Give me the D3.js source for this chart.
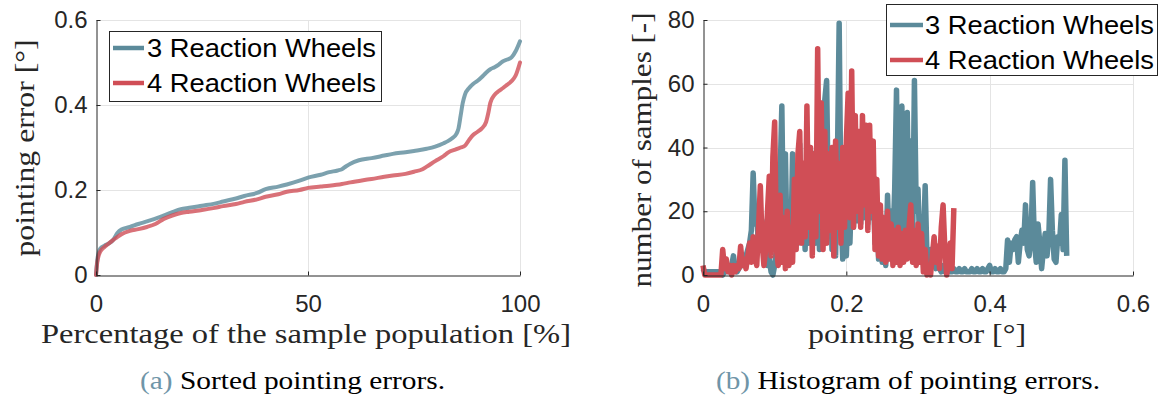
<!DOCTYPE html>
<html>
<head>
<meta charset="utf-8">
<script src="https://cdn.jsdelivr.net/npm/d3@7"></script>
<style>
  html, body { margin: 0; padding: 0; background: #fff; }
  svg { display: block; }
</style>
</head>
<body>
<svg id="fig" width="1163" height="403"></svg>
<script>
// ---- (a) sorted pointing errors: share of the sample population [%] -> error [deg]
const sortedPct3 = [0, 0.3, 0.7, 1, 2, 3, 4, 5, 6, 8, 10, 12, 15, 18, 20, 22, 25, 28, 30, 33, 35, 38, 40, 43, 45, 48, 50, 53, 55, 57, 58, 59, 60, 62, 65, 68, 70, 73, 75, 78, 80, 82, 83, 84, 85, 85.5, 86, 86.5, 87, 88, 89, 90, 91, 92, 93, 94, 95, 96, 97, 98, 99, 100];
const sortedErr3 = [0, 0.035, 0.055, 0.062, 0.069, 0.074, 0.082, 0.098, 0.107, 0.113, 0.12, 0.126, 0.136, 0.148, 0.155, 0.158, 0.163, 0.168, 0.173, 0.18, 0.186, 0.193, 0.202, 0.208, 0.213, 0.222, 0.229, 0.236, 0.242, 0.246, 0.249, 0.256, 0.262, 0.27, 0.275, 0.281, 0.285, 0.289, 0.292, 0.297, 0.302, 0.31, 0.315, 0.322, 0.332, 0.345, 0.375, 0.405, 0.424, 0.44, 0.45, 0.457, 0.466, 0.476, 0.484, 0.489, 0.495, 0.503, 0.507, 0.512, 0.527, 0.55];
const sortedPct4 = [0, 0.3, 0.7, 1, 2, 3, 4, 5, 6, 8, 10, 12, 14, 16, 18, 20, 22, 25, 28, 30, 33, 35, 38, 40, 43, 45, 48, 50, 53, 55, 58, 60, 63, 65, 68, 70, 73, 75, 77, 78, 80, 82, 83, 85, 86, 87, 88, 89, 90, 91, 92, 92.5, 93, 94, 95, 96, 97, 98, 99, 100];
const sortedErr4 = [0, 0.03, 0.048, 0.055, 0.066, 0.074, 0.082, 0.089, 0.096, 0.104, 0.108, 0.113, 0.12, 0.132, 0.14, 0.146, 0.149, 0.153, 0.158, 0.162, 0.167, 0.172, 0.178, 0.184, 0.19, 0.196, 0.2, 0.205, 0.208, 0.21, 0.214, 0.218, 0.223, 0.226, 0.231, 0.234, 0.238, 0.243, 0.249, 0.255, 0.268, 0.28, 0.288, 0.296, 0.3, 0.304, 0.318, 0.33, 0.337, 0.345, 0.36, 0.38, 0.405, 0.424, 0.433, 0.44, 0.448, 0.456, 0.47, 0.5];

// ---- (b) histogram of pointing errors: bin width [deg] and sample counts per bin
const histBinWidth = 0.0025;
const histCounts3 = [
  2, 1, 1, 1, 1, 1, 1, 1, 1, 1, 1,
  0, 1, 1, 2, 1, 3, 6, 2, 1, 2,
  3, 3, 4, 6, 8, 10, 14, 32, 16, 20,
  8, 12, 17, 6, 10, 3, 5, 1, 0, 3,
  8, 4, 30, 53, 10, 38, 6, 20, 8, 38,
  12, 28, 10, 41, 12, 25, 8, 30, 10, 39,
  14, 38, 10, 28, 8, 35, 12, 55, 61, 20,
  35, 8, 25, 6, 35, 79, 20, 5, 18, 6,
  22, 10, 28, 15, 30, 17, 28, 16, 35, 18,
  30, 16, 38, 18, 28, 10, 22, 5, 12, 4,
  10, 3, 25, 8, 20, 10, 27, 58, 15, 45,
  53, 12, 40, 51, 14, 42, 10, 61, 20, 27,
  8, 4, 10, 28, 6, 3, 8, 3, 5, 2,
  4, 2, 1, 3, 1,
  1, 2, 1, 1, 2, 1, 1, 2, 1, 1, 2, 1, 1, 1, 2, 1, 1, 2, 1, 1, 2, 1, 1, 2, 3, 1, 1, 2, 1, 1, 2, 1, 1,
  2, 11, 4, 10, 8, 11, 12, 4, 10, 14,
  10, 22, 8, 6, 12, 29, 10, 4, 16, 10,
  2, 8, 13, 6, 12, 30, 14, 5, 4, 12,
  10, 19, 8, 36, 6
];
const histCounts4 = [
  3, 0, 0, 0, 0, 0, 0, 0, 0, 0, 0,
  8, 2, 5, 1, 3, 0, 3, 1, 3, 2,
  9, 3, 5, 2, 6, 10, 4, 12, 6, 3,
  15, 28, 10, 3, 8, 20, 31, 6, 37, 48,
  8, 3, 25, 4, 18, 2, 20, 3, 15, 4,
  30, 8, 38, 45, 10, 35, 12, 53, 15, 40,
  6, 38, 12, 71, 20, 54, 8, 45, 10, 38,
  14, 40, 6, 42, 15, 35, 10, 40, 15, 42,
  57, 18, 64, 15, 50, 20, 45, 15, 50, 22,
  47, 14, 47, 20, 42, 8, 30, 6, 22, 5,
  18, 4, 20, 5, 16, 3, 14, 4, 15, 3,
  13, 4, 14, 5, 15, 22, 4, 14, 3, 16,
  4, 13, 1, 8, 0, 3, 0, 6, 12, 4,
  9, 2, 15, 22, 8, 0, 4, 10, 2, 21
];

const seriesNames = ["3 Reaction Wheels", "4 Reaction Wheels"];
const leftXTicks = [0, 50, 100];
const leftYTicks = [0, 0.2, 0.4, 0.6];
const rightXTicks = [0, 0.2, 0.4, 0.6];
const rightYTicks = [0, 20, 40, 60, 80];
const captionTags = ["(a)", "(b)"];
const captionTexts = ["Sorted pointing errors.", "Histogram of pointing errors."];

// ---- styling
const COL3 = "#5b8a9a", COL4 = "#d04e56";
const INK = "#262626", GRID = "#e4e4e4";
const SANS = "'Liberation Sans', Arial, Helvetica, sans-serif";
const SERIF = "'Liberation Serif', 'Times New Roman', serif";

const svg = d3.select("#fig");

function drawGrid(g, x, y, xt, yt) {
  const [x0, x1] = x.range(), [y0, y1] = y.range();
  g.append("g").selectAll("line").data(yt.filter(d => d !== y.domain()[0])).join("line")
    .attr("x1", x0).attr("x2", x1)
    .attr("y1", d => Math.round(y(d)) + 0.5).attr("y2", d => Math.round(y(d)) + 0.5)
    .attr("stroke", GRID).attr("stroke-width", 1);
  g.append("g").selectAll("line").data(xt.filter(d => d !== x.domain()[0])).join("line")
    .attr("y1", y0).attr("y2", y1)
    .attr("x1", d => Math.round(x(d)) + 0.5).attr("x2", d => Math.round(x(d)) + 0.5)
    .attr("stroke", GRID).attr("stroke-width", 1);
}

function drawAxes(g, x, y, xt, yt, fmt) {
  const [y0] = y.range(), [x0] = x.range();
  const ax = g.append("g").attr("transform", `translate(0,${Math.round(y0) + 0.5})`)
    .call(d3.axisBottom(x).tickValues(xt).tickFormat(fmt).tickSizeInner(-4).tickSizeOuter(0).tickPadding(19));
  const ay = g.append("g").attr("transform", `translate(${Math.round(x0) + 0.5},0)`)
    .call(d3.axisLeft(y).tickValues(yt).tickFormat(fmt).tickSizeInner(-4).tickSizeOuter(0).tickPadding(9));
  [ax, ay].forEach(a => {
    a.select(".domain").attr("stroke", INK).attr("stroke-width", 1);
    a.selectAll(".tick line").attr("stroke", INK);
    a.selectAll(".tick text").attr("fill", INK).attr("font-family", SANS).attr("font-size", 24);
  });
}

function drawLegend(g, x, y, w, h, lineX0, lineX1, rowY, textX) {
  const lg = g.append("g");
  lg.append("rect").attr("x", x + 0.5).attr("y", y + 0.5).attr("width", w).attr("height", h)
    .attr("fill", "#fff").attr("stroke", INK).attr("stroke-width", 1);
  [COL3, COL4].forEach((c, i) => {
    lg.append("line").attr("x1", lineX0).attr("x2", lineX1)
      .attr("y1", rowY[i]).attr("y2", rowY[i])
      .attr("stroke", c).attr("stroke-width", 4.5);
    lg.append("text").attr("x", textX).attr("y", rowY[i]).attr("dy", "0.36em")
      .attr("font-family", SANS).attr("font-size", 25).attr("fill", "#000")
      .attr("textLength", 229).attr("lengthAdjust", "spacingAndGlyphs")
      .text(seriesNames[i]);
  });
}

function serifLabel(x, y, rot, txt, len, size) {
  svg.append("text")
    .attr("transform", `translate(${x},${y}) rotate(${rot})`)
    .attr("text-anchor", "middle")
    .attr("font-family", SERIF).attr("font-size", size).attr("fill", INK)
    .attr("textLength", len).attr("lengthAdjust", "spacingAndGlyphs")
    .text(txt);
}

// ================= (a) sorted pointing errors =================
const xL = d3.scaleLinear().domain([0, 100]).range([96, 520]);
const yL = d3.scaleLinear().domain([0, 0.6]).range([275, 20]);
const gL = svg.append("g");
drawGrid(gL, xL, yL, leftXTicks, leftYTicks);

const sortedLine = d3.line().x(d => xL(d[0])).y(d => yL(d[1])).curve(d3.curveMonotoneX);
[[sortedPct3, sortedErr3, COL3], [sortedPct4, sortedErr4, COL4]].forEach(([px, py, c]) => {
  gL.append("path").datum(d3.zip(px, py)).attr("d", sortedLine)
    .attr("fill", "none").attr("stroke", c).attr("stroke-width", 4)
    .attr("stroke-opacity", 0.8).attr("stroke-linejoin", "round").attr("stroke-linecap", "round");
});
drawAxes(gL, xL, yL, leftXTicks, leftYTicks, d3.format("~g"));
drawLegend(gL, 109, 31, 272, 70, 113, 144, [48, 83], 147);
serifLabel(306, 343, 0, "Percentage of the sample population [%]", 530, 28);
serifLabel(34, 148, -90, "pointing error [°]", 217, 28);

// ================= (b) histogram of pointing errors =================
const xR = d3.scaleLinear().domain([0, 0.6]).range([703, 1133]);
const yR = d3.scaleLinear().domain([0, 80]).range([275, 20]);
const gR = svg.append("g");
drawGrid(gR, xR, yR, rightXTicks, rightYTicks);

const histLine = d3.line().x((d, i) => xR(i * histBinWidth)).y(d => yR(d));
[[histCounts3, COL3], [histCounts4, COL4]].forEach(([counts, c]) => {
  gR.append("path").datum(counts).attr("d", histLine)
    .attr("fill", "none").attr("stroke", c).attr("stroke-width", 5.5)
    .attr("stroke-linejoin", "round").attr("stroke-linecap", "butt");
});
drawAxes(gR, xR, yR, rightXTicks, rightYTicks, d3.format("~g"));
drawLegend(gR, 886, 4, 271, 71, 890, 923, [25, 60], 925);
serifLabel(917, 343, 0, "pointing error [°]", 218, 28);
serifLabel(651, 150, -90, "number of samples [-]", 275, 28);

// ================= sub-captions =================
const capX = [140, 716], capW = [305, 384];
captionTags.forEach((tag, i) => {
  const t = svg.append("text").attr("x", capX[i]).attr("y", 389)
    .attr("font-family", SERIF).attr("font-size", 25).attr("fill", "#000")
    .attr("textLength", capW[i]).attr("lengthAdjust", "spacingAndGlyphs");
  t.append("tspan").attr("fill", "#6f95a8").text(tag);
  t.append("tspan").text(" " + captionTexts[i]);
});
</script>
</body>
</html>
